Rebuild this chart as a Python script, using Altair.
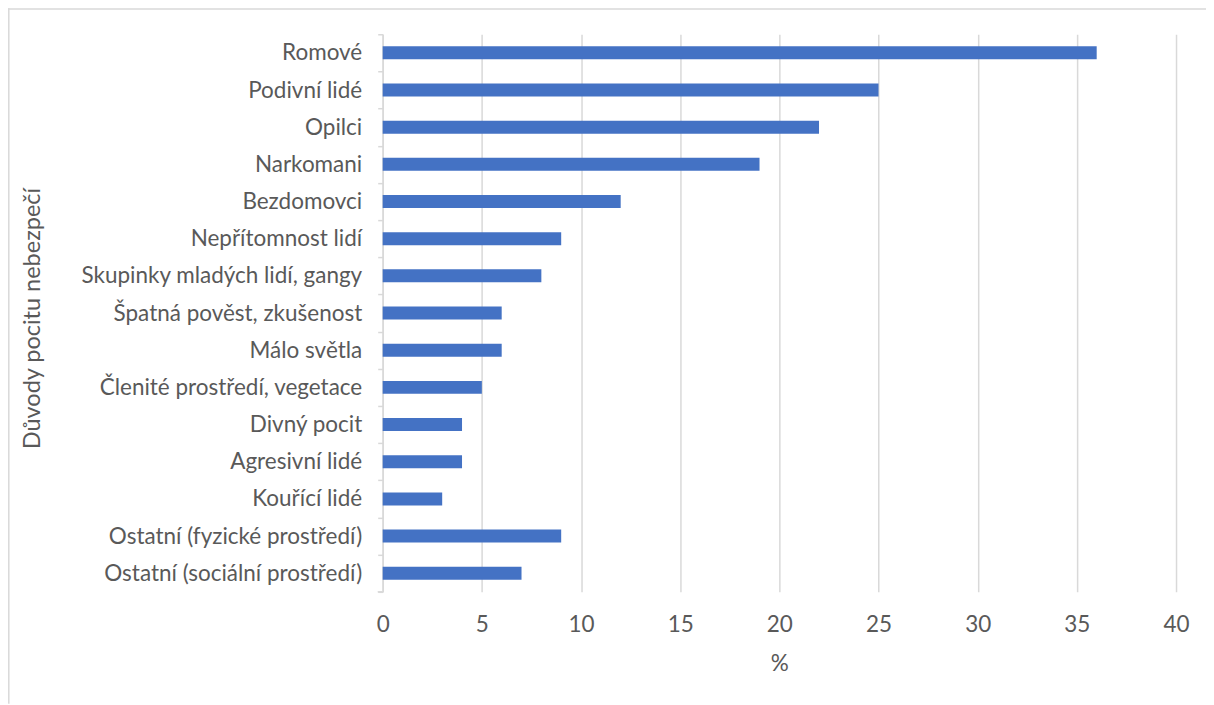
import altair as alt
import pandas as pd

categories = [
    "Romové", "Podivní lidé", "Opilci", "Narkomani", "Bezdomovci",
    "Nepřítomnost lidí", "Skupinky mladých lidí, gangy", "Špatná pověst, zkušenost ",
    "Málo světla", "Členité prostředí, vegetace", "Divný pocit", "Agresivní lidé",
    "Kouřící lidé", "Ostatní (fyzické prostředí)", "Ostatní (sociální prostředí)",
]
values = [36, 25, 22, 19, 12, 9, 8, 6, 6, 5, 4, 4, 3, 9, 7]
x_ticks = [0, 5, 10, 15, 20, 25, 30, 35, 40]

df = pd.DataFrame({"cat": categories, "val": values})

W, H = 794, 558
FONT = "Lato"
TXT = "#595959"
GRID = "#D9D9D9"
FS = 22.5
TFS = 23.5
PB = 112

bars = alt.Chart(df).mark_bar(height=13, color="#4472C4").encode(
    x=alt.X("val:Q", title="%",
            scale=alt.Scale(domain=[0, 40], nice=False),
            axis=alt.Axis(values=x_ticks, grid=True, gridColor=GRID, gridWidth=1.5,
                          domain=False, ticks=False, labelPadding=22, labelFlush=False,
                          labelFontSize=FS, labelColor=TXT, labelFont=FONT,
                          titleFontSize=FS, titleColor=TXT, titleFont=FONT,
                          titleFontWeight="normal", titleY=72, titleBaseline="middle")),
    y=alt.Y("cat:N", sort=categories, title="Důvody pocitu nebezpečí",
            scale=alt.Scale(paddingInner=0, paddingOuter=0),
            axis=alt.Axis(domain=True, domainColor=GRID, domainWidth=1.5,
                          ticks=True, tickColor=GRID, tickSize=5, tickWidth=1.5,
                          tickBand="extent", bandPosition=0,
                          labelPadding=16, labelFontSize=FS, labelColor=TXT,
                          labelFont=FONT, labelLimit=400,
                          titleFontSize=TFS, titleColor=TXT, titleFont=FONT,
                          titleFontWeight="normal", titleX=-350, titleY=H / 2 + 5,
                          titleAngle=-90, titleAlign="center",
                          titleBaseline="middle")),
)

bottom_tick = alt.Chart(pd.DataFrame({"a": [0]})).mark_rule(
    color=GRID, strokeWidth=1.5).encode(
    x=alt.value(-5), x2=alt.value(0), y=alt.value(H))

border_left = alt.Chart(pd.DataFrame({"a": [0]})).mark_rule(
    color=GRID, strokeWidth=1.5).encode(
    x=alt.value(-374.2), y=alt.value(-26), y2=alt.value(H + PB))
border_top = alt.Chart(pd.DataFrame({"a": [0]})).mark_rule(
    color=GRID, strokeWidth=1.5).encode(
    x=alt.value(-375), x2=alt.value(W + 30), y=alt.value(-25.2))

chart = alt.layer(bars, bottom_tick, border_left, border_top).properties(
    width=W, height=H,
    autosize=alt.AutoSizeParams(type="none"),
    padding={"left": 375, "top": 26, "right": 30, "bottom": PB},
    background="white",
).configure_view(stroke=None)

chart.save("out.html", embed_options={"renderer": "svg", "actions": False})
